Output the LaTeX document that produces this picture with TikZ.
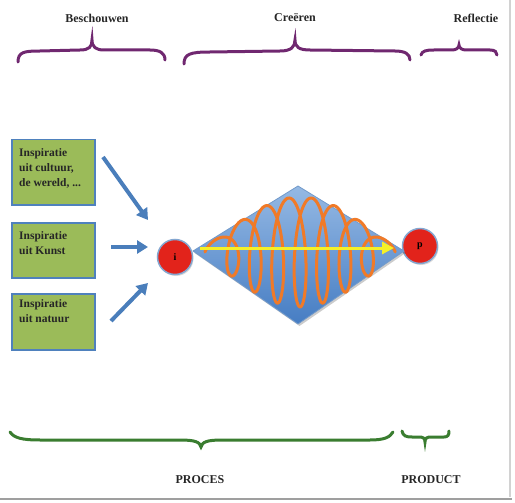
\documentclass[tikz,border=0pt]{standalone}
\usepackage{fontspec}
\setmainfont{Liberation Serif}
\usetikzlibrary{arrows.meta,shadows}
\definecolor{boxgreen}{RGB}{155,187,89}
\definecolor{boxblue}{RGB}{79,129,189}
\definecolor{arrowblue}{RGB}{74,126,187}
\definecolor{braceviolet}{RGB}{112,40,112}
\definecolor{bracegreen}{RGB}{58,125,48}
\definecolor{dotred}{RGB}{226,35,27}
\definecolor{diatop}{RGB}{149,185,228}
\definecolor{diabot}{RGB}{70,125,195}
\definecolor{coil}{RGB}{240,122,40}
\definecolor{yel}{RGB}{245,240,40}
\begin{document}
\begin{tikzpicture}[x=1pt,y=-1pt,
  lbl/.style={font=\bfseries\fontsize{12}{14}\selectfont, text=black!85},
  inspbox/.style={draw=boxblue, line width=1.5pt, fill=boxgreen, minimum width=83pt, anchor=north west, inner sep=0pt,
     drop shadow={shadow xshift=1.5pt, shadow yshift=-1.5pt, opacity=0.35}},
  boxtxt/.style={font=\bfseries\fontsize{11.5}{15}\selectfont, align=left, anchor=north west, inner sep=0pt, text=black!85},
  bluearrow/.style={draw=arrowblue, line width=4pt, -{Triangle[width=13pt,length=11pt]}},
  dot/.style={circle, fill=dotred, draw=boxblue!70, line width=1.5pt, minimum size=35pt, inner sep=0pt,
     font=\bfseries\fontsize{10}{12}\selectfont, drop shadow={shadow xshift=1pt, shadow yshift=-1.5pt, opacity=0.3}},
  brace/.style={line width=3pt, line cap=round},
]
\useasboundingbox (0,0) rectangle (515,503);
% frame lines
\draw[gray!35, line width=1.2pt] (510,0) -- (510,497);
\draw[gray!75, line width=2pt] (0,499) -- (512,499);

% titles
\node[lbl] (t1) at (97,18) {Beschouwen};
\node[lbl] (t2) at (295,18) {Creëren};
\node[lbl] (t3) at (476,18) {Reflectie};

% purple braces
\begin{scope}[brace, draw=braceviolet]
\draw (18,62) .. controls (18,52) and (24,51) .. (40,51) -- (80,50) .. controls (89,50) and (92,47) .. (92,40)
      .. controls (92,47) and (96,50) .. (104,50) -- (150,50) .. controls (160,50) and (165,53) .. (165,60);
\draw (184,64) .. controls (184,54) and (190,52) .. (210,52) -- (280,51) .. controls (291,51) and (295,47) .. (295,40)
      .. controls (295,47) and (299,50) .. (310,50) -- (395,51) .. controls (405,51) and (410,54) .. (410,60);
\draw (421,55) .. controls (422,51) and (426,50) .. (434,50) -- (452,50) .. controls (456,50) and (459,48) .. (459,45)
      .. controls (459,48) and (462,50) .. (466,50) -- (490,50) .. controls (495,50) and (497,52) .. (497,55);
\end{scope}

% boxes
\node[inspbox, minimum height=65pt] (b1) at (11,139) {};
\node[inspbox, minimum height=55pt] (b2) at (11,222) {};
\node[inspbox, minimum height=56pt] (b3) at (11,293) {};
\node[boxtxt] (bt1) at (19,148) {Inspiratie\\uit cultuur,\\de wereld, ...};
\node[boxtxt] (bt2) at (19,231) {Inspiratie\\uit Kunst};
\node[boxtxt] (bt3) at (19,299) {Inspiratie\\uit natuur};

% nodes i and p
\node[dot] (i) at (175,257) {i};
\node[dot] (p) at (420,246) {p};

% arrows into i
\coordinate (a1s) at (103,157);
\coordinate (a1e) at (148,220);
\coordinate (a2s) at (111,247);
\coordinate (a2e) at (148,247);
\coordinate (a3s) at (111,321);
\coordinate (a3e) at (148,283);
\draw[bluearrow] (a1s) -- (a1e);
\draw[bluearrow] (a2s) -- (a2e);
\draw[bluearrow] (a3s) -- (a3e);

% diamond
\coordinate (dl) at (193,251);
\coordinate (dt) at (298,186);
\coordinate (dr) at (404,251);
\coordinate (db) at (298,324);
\fill[black, opacity=0.2] ([shift={(1.5,2)}]dl) -- ([shift={(1.5,2)}]dt) -- ([shift={(1.5,2)}]dr) -- ([shift={(1.5,2)}]db) -- cycle;
\shade[top color=diatop, bottom color=diabot] (dl) -- (dt) -- (dr) -- (db) -- cycle;
\draw[boxblue!80, line width=0.8pt] (dl) -- (dt) -- (dr) -- (db) -- cycle;

% orange coil
\draw[coil, line width=3pt, line cap=round, line join=round]
  plot[domain=-1.5708:45.553, samples=600, smooth]
  ({221.6+3.57*\x+11*sin(\x r)}, {252-(10+45*sin((\x+1.5708)/47.124*180))*cos(\x r)});

% yellow arrow
\coordinate (ys) at (200,248);
\coordinate (ye) at (394,248);
\draw[yel, line width=3pt, -{Triangle[width=12pt,length=12pt]}] (ys) -- (ye);

% bottom green braces
\begin{scope}[brace, draw=bracegreen]
\draw (10,432) .. controls (14,438) and (22,440) .. (40,440) -- (180,440) .. controls (195,440) and (200,442) .. (201,447)
      .. controls (202,442) and (207,440) .. (222,440) -- (370,440) .. controls (385,440) and (390,437) .. (393,432);
\draw (402,431) .. controls (403,436) and (406,437) .. (412,437) -- (419,437) .. controls (423,437) and (425,438) .. (425,442)
      .. controls (425,438) and (427,437) .. (431,437) -- (444,437) .. controls (448,437) and (449,435) .. (449,431);
\end{scope}

\node[lbl] (proces) at (200,480) {PROCES};
\node[lbl] (product) at (431,480) {PRODUCT};
\end{tikzpicture}
\end{document}
